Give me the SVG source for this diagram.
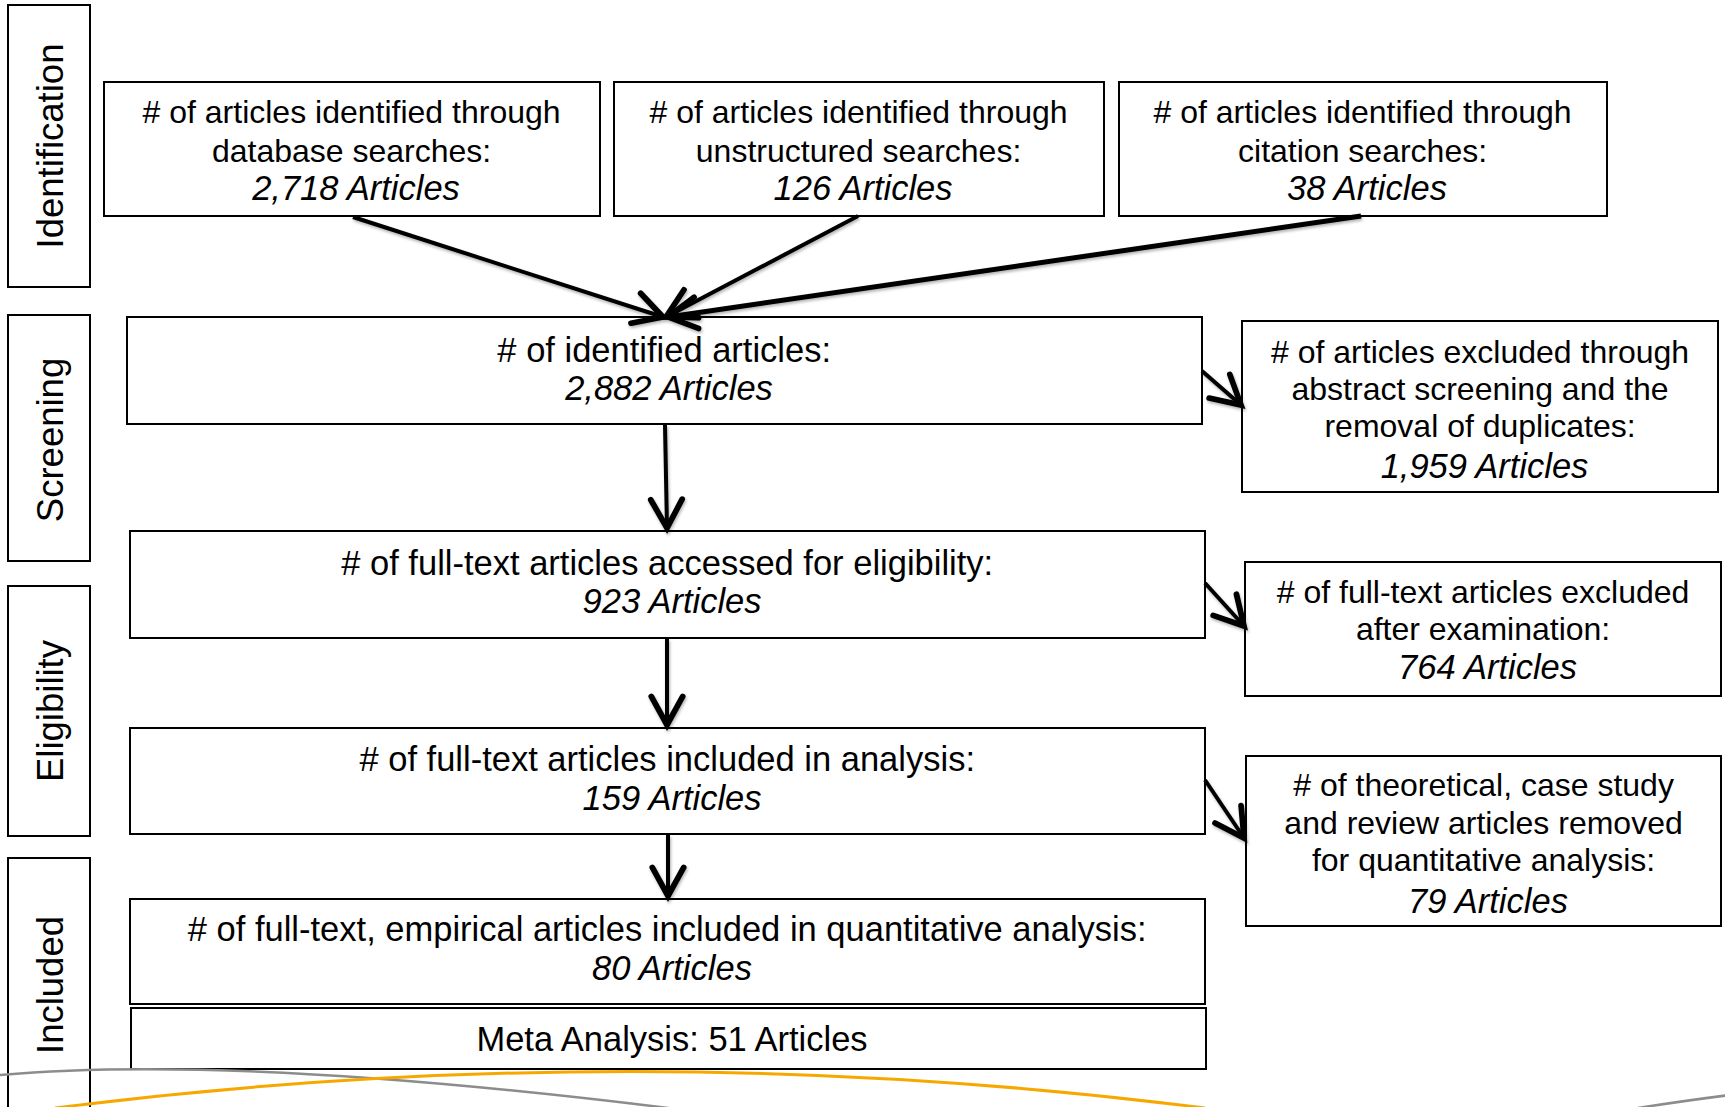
<svg xmlns="http://www.w3.org/2000/svg" width="1725" height="1107" viewBox="0 0 1725 1107">
<defs>
<style>
.box{fill:#fff;stroke:#000;stroke-width:2}
.t{font-family:"Liberation Sans",Arial,sans-serif;fill:#000;text-anchor:middle}
.s32{font-size:32px}
.s34{font-size:34.5px}
.stage{font-size:36.5px}
.it{font-style:italic;font-size:34.5px}
.arr{stroke:#000;stroke-width:4;fill:none;marker-end:url(#ah)}
</style>
<marker id="ah" markerUnits="userSpaceOnUse" markerWidth="40" markerHeight="40" viewBox="-24 -14 28 28" refX="0" refY="0" orient="auto">
<path d="M-20,-11 L0,0 L-20,11" fill="none" stroke="#000" stroke-width="4" stroke-linecap="round" stroke-linejoin="miter"/>
</marker>
<filter id="sh" x="-10%" y="-10%" width="130%" height="130%">
<feDropShadow dx="1" dy="2" stdDeviation="1.5" flood-color="#000" flood-opacity="0.3"/>
</filter>
</defs>
<rect width="1725" height="1107" fill="#fff"/>

<g id="stage-identification">
<rect class="box" x="8" y="5" width="82" height="282"/>
<text class="t stage" transform="translate(63,146) rotate(-90)">Identification</text>
</g>
<g id="stage-screening">
<rect class="box" x="8" y="315" width="82" height="246"/>
<text class="t stage" transform="translate(63,440) rotate(-90)">Screening</text>
</g>
<g id="stage-eligibility">
<rect class="box" x="8" y="586" width="82" height="250"/>
<text class="t stage" transform="translate(63,711) rotate(-90)">Eligibility</text>
</g>
<g id="stage-included">
<rect class="box" x="8" y="858" width="82" height="260"/>
<text class="t stage" transform="translate(63,985) rotate(-90)">Included</text>
</g>

<g id="node-database">
<rect class="box" x="104" y="82" width="496" height="134"/>
<text class="t s32">
<tspan x="356" y="123"># of articles identified through</tspan>
<tspan x="356" y="162">database searches:</tspan>
<tspan class="it" x="356" y="200">2,718 Articles</tspan>
</text>
</g>
<g id="node-unstructured">
<rect class="box" x="614" y="82" width="490" height="134"/>
<text class="t s32">
<tspan x="863" y="123"># of articles identified through</tspan>
<tspan x="863" y="162">unstructured searches:</tspan>
<tspan class="it" x="863" y="200">126 Articles</tspan>
</text>
</g>
<g id="node-citation">
<rect class="box" x="1119" y="82" width="488" height="134"/>
<text class="t s32">
<tspan x="1367" y="123"># of articles identified through</tspan>
<tspan x="1367" y="162">citation searches:</tspan>
<tspan class="it" x="1367" y="200">38 Articles</tspan>
</text>
</g>

<g id="node-identified">
<rect class="box" x="127" y="317" width="1075" height="107"/>
<text class="t s34">
<tspan x="669" y="362"># of identified articles:</tspan>
<tspan class="it" x="669" y="400">2,882 Articles</tspan>
</text>
</g>
<g id="node-excluded-abstract">
<rect class="box" x="1242" y="321" width="476" height="171"/>
<text class="t s32">
<tspan x="1484.5" y="363"># of articles excluded through</tspan>
<tspan x="1484.5" y="400">abstract screening and the</tspan>
<tspan x="1484.5" y="437">removal of duplicates:</tspan>
<tspan class="it" x="1484.5" y="478">1,959 Articles</tspan>
</text>
</g>

<g id="node-fulltext">
<rect class="box" x="130" y="531" width="1075" height="107"/>
<text class="t s34">
<tspan x="672" y="575"># of full-text articles accessed for eligibility:</tspan>
<tspan class="it" x="672" y="613">923 Articles</tspan>
</text>
</g>
<g id="node-excluded-fulltext">
<rect class="box" x="1245" y="562" width="476" height="134"/>
<text class="t s32">
<tspan x="1487.5" y="603"># of full-text articles excluded</tspan>
<tspan x="1487.5" y="640">after examination:</tspan>
<tspan class="it" x="1487.5" y="679">764 Articles</tspan>
</text>
</g>

<g id="node-included-analysis">
<rect class="box" x="130" y="728" width="1075" height="106"/>
<text class="t s34">
<tspan x="672" y="771"># of full-text articles included in analysis:</tspan>
<tspan class="it" x="672" y="810">159 Articles</tspan>
</text>
</g>
<g id="node-theoretical">
<rect class="box" x="1246" y="756" width="475" height="170"/>
<text class="t s32">
<tspan x="1488" y="796"># of theoretical, case study</tspan>
<tspan x="1488" y="834">and review articles removed</tspan>
<tspan x="1488" y="871">for quantitative analysis:</tspan>
<tspan class="it" x="1488" y="913">79 Articles</tspan>
</text>
</g>

<g id="node-empirical">
<rect class="box" x="130" y="899" width="1075" height="105"/>
<text class="t s34">
<tspan x="672" y="941"># of full-text, empirical articles included in quantitative analysis:</tspan>
<tspan class="it" x="672" y="980">80 Articles</tspan>
</text>
</g>
<g id="node-meta">
<rect class="box" x="131" y="1008" width="1075" height="61"/>
<text class="t s34" x="672" y="1051">Meta Analysis: 51 Articles</text>
</g>

<g id="connectors" filter="url(#sh)">
<line class="arr" x1="353" y1="217" x2="663" y2="317"/>
<line class="arr" x1="858" y1="216" x2="666" y2="317"/>
<line class="arr" x1="1361" y1="216" x2="668" y2="317" style="stroke-width:5"/>
<line class="arr" x1="665" y1="425" x2="667" y2="528"/>
<line class="arr" x1="667" y1="639" x2="667" y2="725"/>
<line class="arr" x1="668" y1="835" x2="668" y2="896"/>
<line class="arr" x1="1202" y1="371" x2="1241" y2="405"/>
<line class="arr" x1="1205" y1="583" x2="1244" y2="626"/>
<line class="arr" x1="1205" y1="780" x2="1244" y2="838"/>
</g>

<g id="decoration" fill="none">
<path d="M-10 1076 Q 230 1052 700 1112" stroke="#8c8c8c" stroke-width="2.5"/>
<path d="M55 1108 Q 630 1035 1205 1108" stroke="#f7a800" stroke-width="3"/>
<path d="M1638 1108 Q 1690 1100 1730 1095" stroke="#8c8c8c" stroke-width="2.5"/>
</g>
</svg>
